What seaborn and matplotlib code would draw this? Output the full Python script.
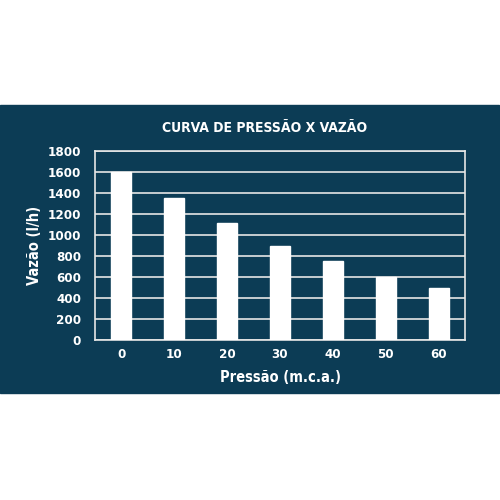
import numpy as np
import pandas as pd
import matplotlib
matplotlib.use('Agg')
import matplotlib.pyplot as plt
from matplotlib.patches import Rectangle
from matplotlib.ticker import FixedLocator
import seaborn as sns

pressao = ['0', '10', '20', '30', '40', '50', '60']
vazao = [1600, 1350, 1110, 900, 750, 600, 500]
y_ticks = [0, 200, 400, 600, 800, 1000, 1200, 1400, 1600, 1800]

df = pd.DataFrame({'Pressão': pressao, 'Vazão': vazao})

bg = '#0c3c55'
sns.set_style('white')
plt.rcParams['font.family'] = ['Liberation Sans Narrow', 'DejaVu Sans']
plt.rcParams['font.stretch'] = 'condensed'
plt.rcParams['font.weight'] = 'bold'

fig = plt.figure(figsize=(5, 5), dpi=100)
fig.patches.append(Rectangle((0.0, 1 - 393 / 500), 0.997, (393 - 105) / 500,
                             transform=fig.transFigure, color=bg, zorder=-1))

ax = fig.add_axes([95 / 500, 1 - 340 / 500, 370 / 500, 189 / 500])
ax.set_zorder(2)
ax.set_facecolor(bg)
sns.barplot(data=df, x='Pressão', y='Vazão', color='white', width=0.38,
            saturation=1, ax=ax, zorder=3)

ax.set_ylim(0, 1800)
ax.set_xlim(-0.5, len(pressao) - 0.5)
ax.set_yticks(y_ticks)
ax.yaxis.grid(True, color='#e6e6e6', linewidth=1.2, zorder=1)
ax.set_axisbelow(True)
for s in ax.spines.values():
    s.set_color('#e6e6e6')
    s.set_linewidth(1.2)

ax.xaxis.set_minor_locator(FixedLocator(np.arange(0.5, len(pressao) - 1, 1)))
ax.tick_params(axis='x', which='major', length=0, pad=6, colors='white', labelsize=9.5)
ax.tick_params(axis='x', which='minor', length=5, direction='out', color='#e6e6e6', width=1.2)
ax.tick_params(axis='y', length=6, direction='out', color='#e6e6e6', width=1.2, pad=4,
               labelcolor='white', labelsize=9.5)
for lbl in ax.get_xticklabels() + ax.get_yticklabels():
    lbl.set_fontweight('bold')

ax.set_xlabel('Pressão (m.c.a.)', color='white', fontsize=10.5, fontweight='bold', labelpad=6)
ax.set_ylabel('Vazão (l/h)', color='white', fontsize=10.5, fontweight='bold', labelpad=4)

fig.text(265 / 500, 1 - 128 / 500, 'CURVA DE PRESSÃO X VAZÃO', color='white',
         fontsize=10, fontweight='bold', ha='center', va='center')

fig.savefig('out.png', dpi=100, facecolor='white')
